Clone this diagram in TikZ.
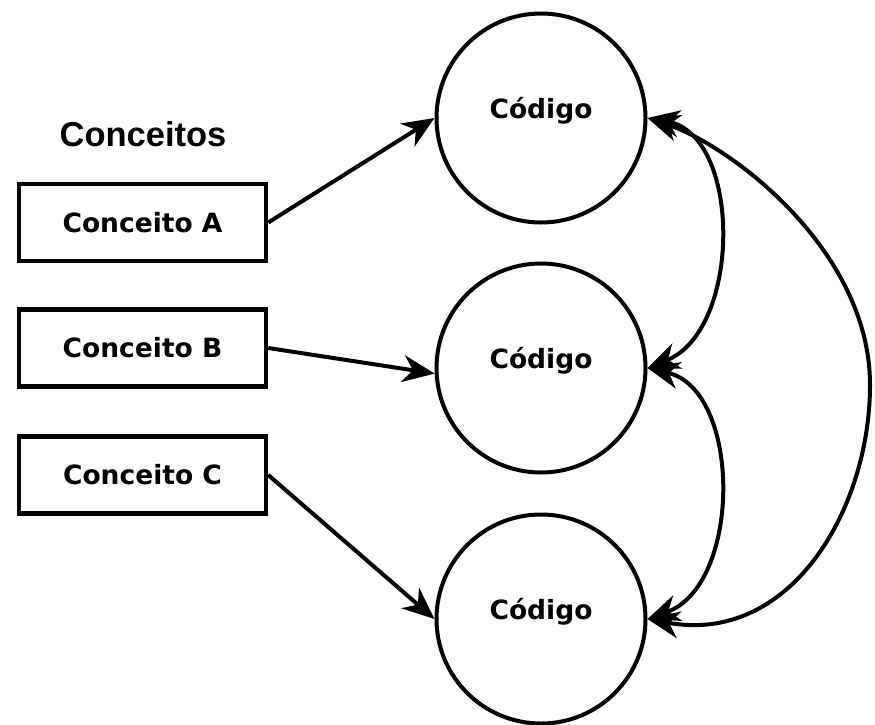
\documentclass[tikz,border=0pt]{standalone}
\usepackage{fontspec}
\setmainfont{DejaVu Sans}
\newfontfamily\arialfont{Liberation Sans}
\usetikzlibrary{arrows.meta}
\begin{document}
\begin{tikzpicture}[x=1pt,y=-1pt,
  conc/.style={draw, line width=4.5pt, minimum width=247pt, minimum height=77pt, inner sep=0pt,
    font=\bfseries\fontsize{26.5}{30}\selectfont},
  code/.style={draw, circle, line width=4pt, minimum size=209pt, inner sep=0pt},
  lbl/.style={anchor=base, inner sep=0pt, font=\bfseries\fontsize{26.5}{30}\selectfont},
  arr/.style={line width=4pt, -{Stealth[length=32pt,width=27pt,inset=10pt]}},
  darr/.style={line width=4pt, {Stealth[length=32pt,width=27pt,inset=10pt]}-{Stealth[length=32pt,width=27pt,inset=10pt]}}
]
\useasboundingbox (0,0) rectangle (875,724);
\fill[white] (0,0) rectangle (875,724);

\node[anchor=base, inner sep=0pt, font=\arialfont\bfseries\fontsize{34.5}{38}\selectfont] (title) at (143,146) {Conceitos};

\node[conc] (A) at (142.5,222.5) {Conceito A};
\node[conc] (B) at (142.5,348) {Conceito B};
\node[conc] (C) at (142.5,475) {Conceito C};

\node[code] (c1) at (541,118) {};
\node[code] (c2) at (541,368) {};
\node[code] (c3) at (541,619) {};
\node[lbl] (t1) at (c1.center) {Código};
\node[lbl] (t2) at (c2.center) {Código};
\node[lbl] (t3) at (c3.center) {Código};

\draw[arr] (A.east) -- (c1.west);
\draw[arr] (B.east) -- (c2.183);
\draw[arr] (C.east) -- (c3.west);

\draw[darr] (c1.east) .. controls (742,135) and (742,330) .. (c2.east);
\draw[darr] (c2.east) .. controls (742,390) and (742,585) .. (c3.east);
\coordinate (far) at (870,385);
\draw[darr] (c1.east) .. controls (730,145) and (870,250) .. (far) .. controls (870,510) and (790,645) .. (c3.east);
\end{tikzpicture}
\end{document}
